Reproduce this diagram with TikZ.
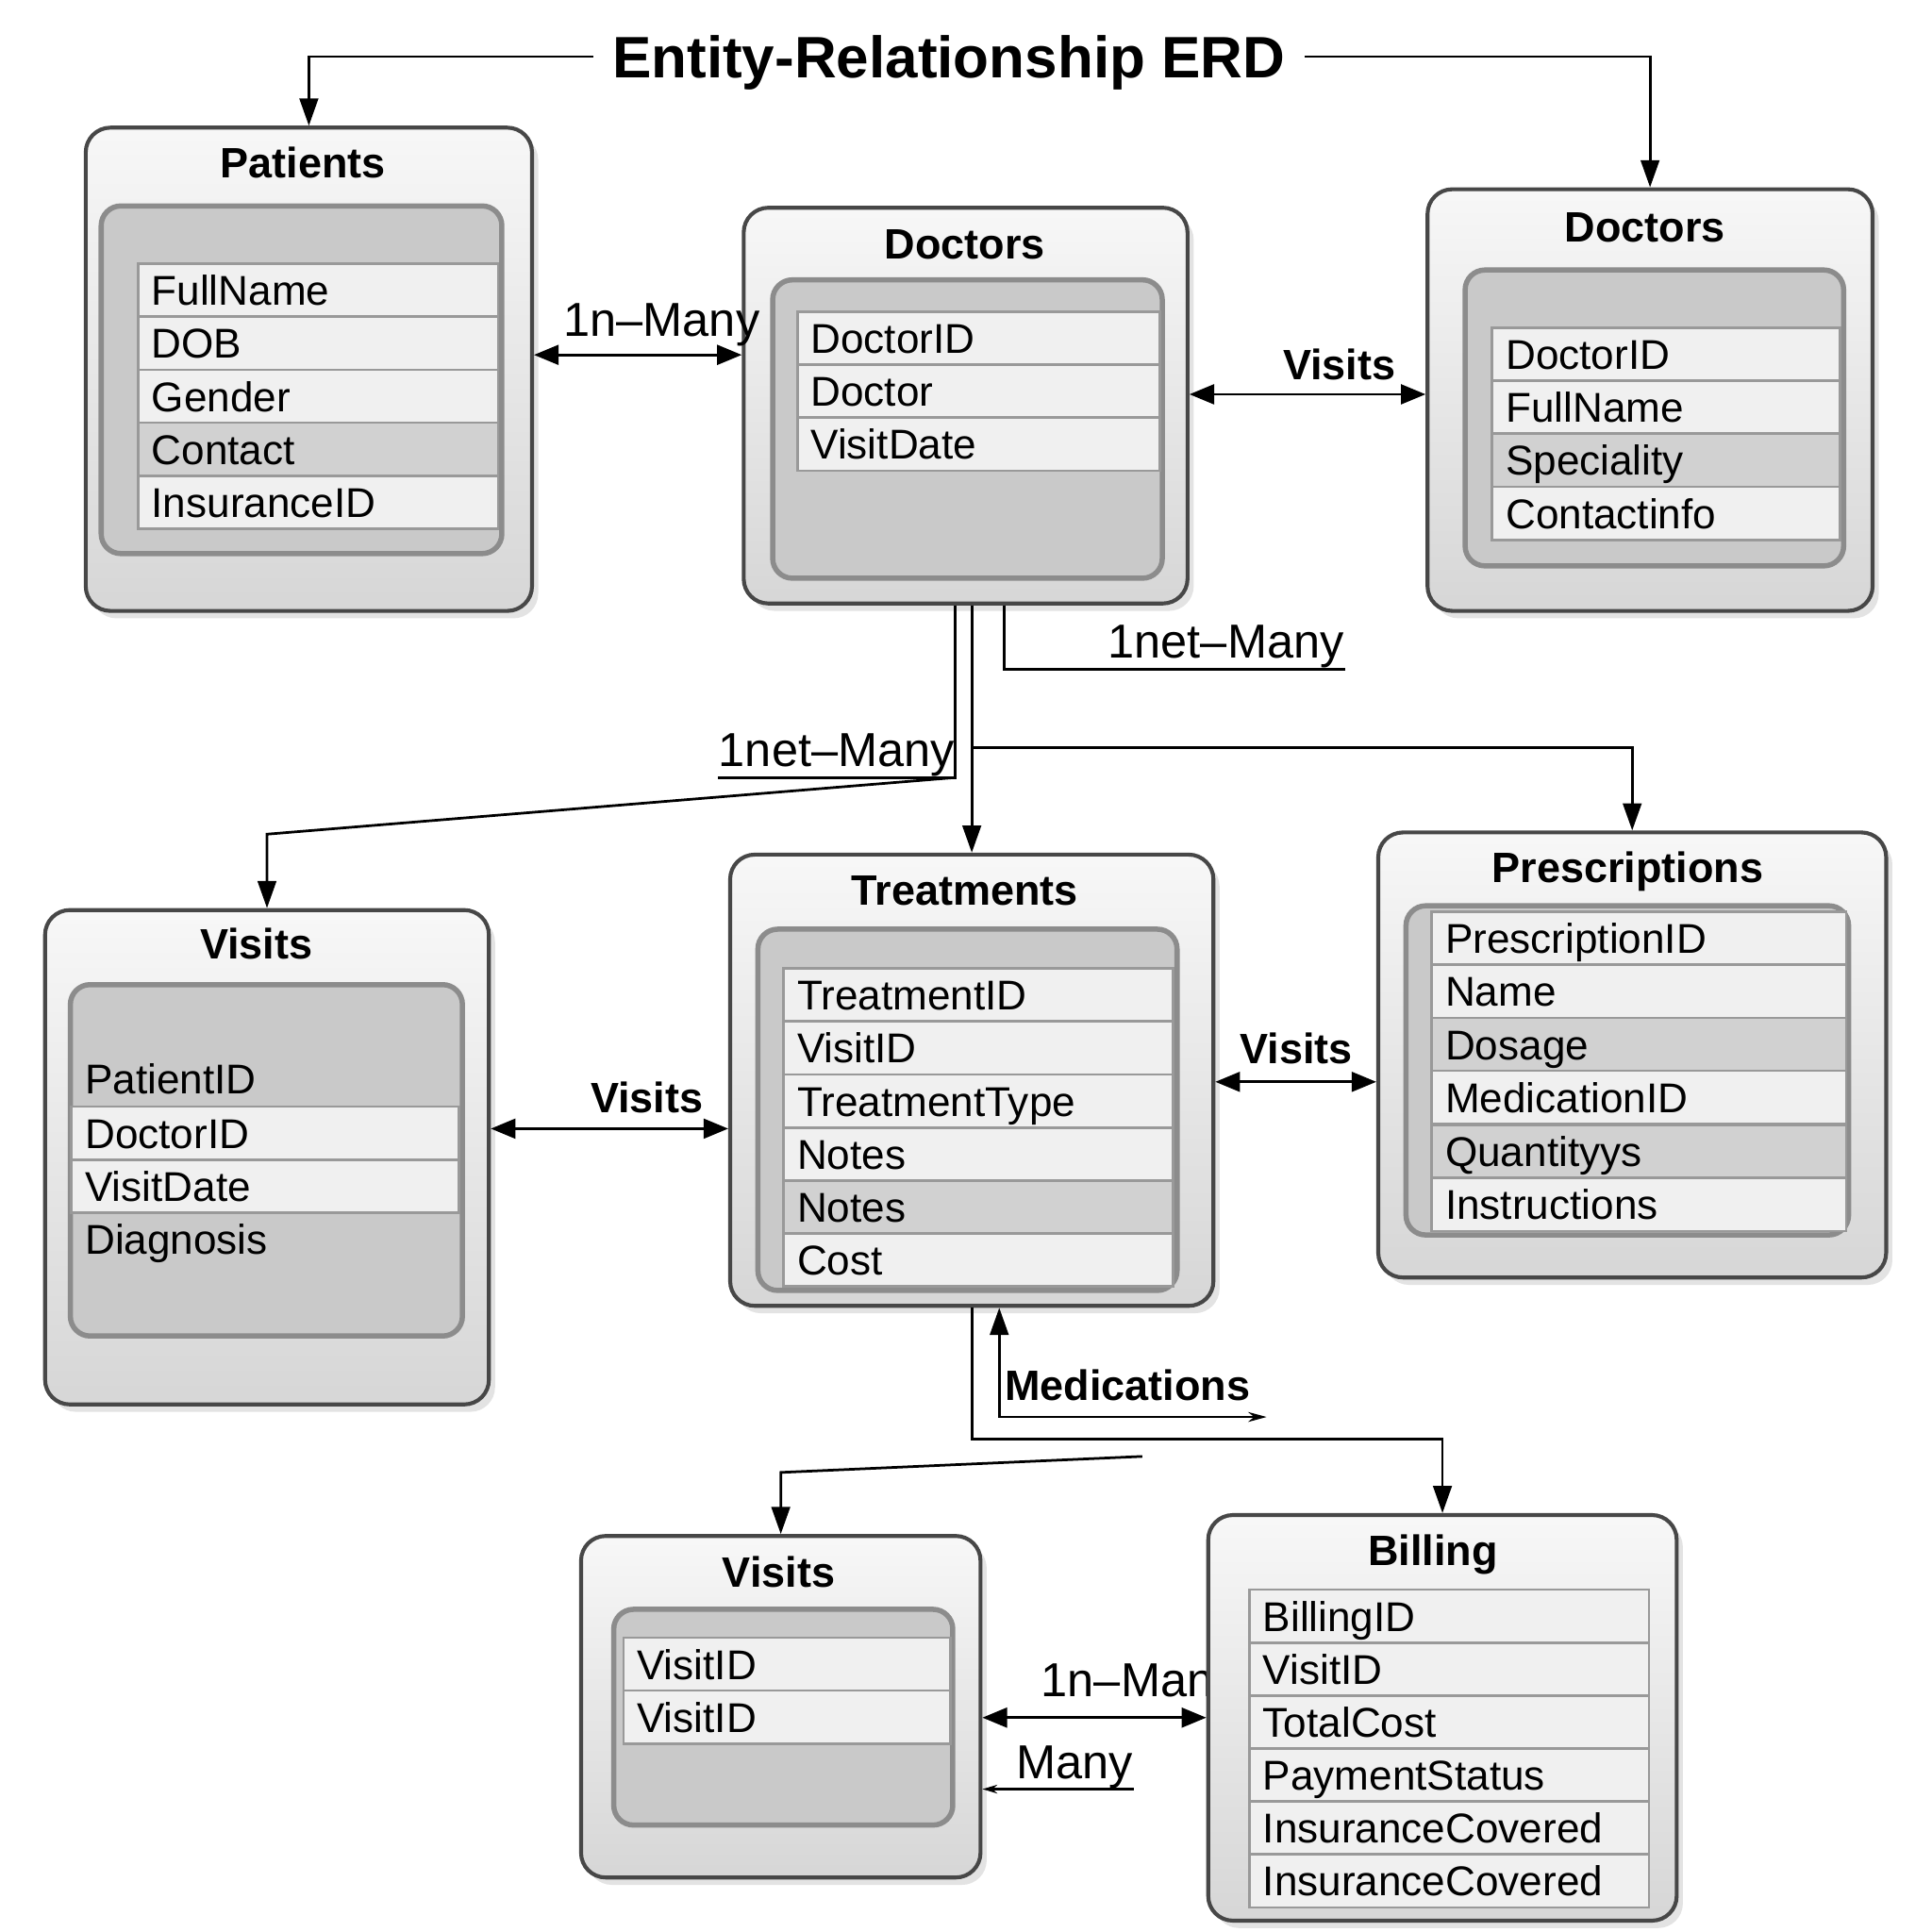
\documentclass[tikz,border=0pt]{standalone}
\usepackage{fontspec}
\setmainfont{Liberation Sans}
\usetikzlibrary{arrows.meta,shadows}

\newcommand{\erfield}[5][lrow]{\node[field,#1,text width=#4cm] (#2) at (#3) {#5};}

\begin{document}
\begin{tikzpicture}[x=0.01cm,y=-0.01cm]
        \tikzstyle{every node}=[font=\fontsize{9.6}{11}\selectfont]
        \tikzstyle{entity}=[draw=black!72, line width=0.9pt, rounded corners=0.2cm, top color=black!3, bottom color=black!16, drop shadow={shadow xshift=0.5mm, shadow yshift=-0.6mm, opacity=0.22}, anchor=north west, inner sep=0]
        \tikzstyle{inbox}=[draw=black!45, line width=1.2pt, rounded corners=0.16cm, fill=black!21, anchor=north west, inner sep=0]
        \tikzstyle{field}=[anchor=north west, draw=black!40, line width=0.6pt, minimum height=0.43cm, inner xsep=0.11cm, inner ysep=0, text height=0.245cm, text depth=0cm, align=left]
        \tikzstyle{lrow}=[fill=black!6]
        \tikzstyle{drow}=[fill=black!18]
        \tikzstyle{brow}=[draw=none]
        \tikzstyle{etitle}=[font=\fontsize{9.8}{12}\selectfont\bfseries, text height=0.25cm, text depth=0cm, inner sep=0]
        \tikzstyle{conlbl}=[font=\fontsize{11}{13}\selectfont, inner sep=0]
        \tikzstyle{rellbl}=[font=\fontsize{9.8}{12}\selectfont\bfseries, inner sep=0]
        \tikzstyle{con}=[line width=0.6pt]
        \tikzstyle{arr}=[con, -{Triangle[length=0.22cm,width=0.15cm]}]
        \tikzstyle{dbl}=[con, {Triangle[length=0.2cm,width=0.16cm]}-{Triangle[length=0.2cm,width=0.16cm]}]

        \fill[white] (0,0) rectangle (1568,1568);
        \useasboundingbox (0,0) rectangle (1568,1568);

        \node[font=\fontsize{13.5}{16}\selectfont\bfseries, inner xsep=0.15cm, text height=0.34cm, text depth=0cm] (title) at (770,46) {Entity-Relationship ERD};

        % Patients
        \node[entity, minimum width=3.62cm, minimum height=3.92cm] (patients) at (68,102) {};
        \node[etitle] (patientsT) at (246,132) {Patients};
        \node[inbox, minimum width=3.25cm, minimum height=2.82cm] (patientsI) at (80,165) {};
        \erfield{pFull}{111,213}{2.70}{FullName}
        \erfield{pDob}{111,256}{2.70}{DOB}
        \erfield{pGen}{111,299}{2.70}{Gender}
        \erfield[drow]{pCon}{111,342}{2.70}{Contact}
        \erfield{pIns}{111,385}{2.70}{InsuranceID}

        % Doctors (middle)
        \node[entity, minimum width=3.60cm, minimum height=3.21cm] (docA) at (602,167) {};
        \node[etitle] (docAT) at (783,198) {Doctors};
        \node[inbox, minimum width=3.16cm, minimum height=2.42cm] (docAI) at (625,225) {};
        \erfield{daId}{646,252}{2.72}{DoctorID}
        \erfield{daDoc}{646,295}{2.72}{Doctor}
        \erfield{daDate}{646,338}{2.72}{VisitDate}

        % Doctors (right)
        \node[entity, minimum width=3.61cm, minimum height=3.42cm] (docB) at (1157,152) {};
        \node[etitle] (docBT) at (1335,184) {Doctors};
        \node[inbox, minimum width=3.07cm, minimum height=2.40cm] (docBI) at (1187,217) {};
        \erfield{dbId}{1210,265}{2.60}{DoctorID}
        \erfield{dbName}{1210,308}{2.60}{FullName}
        \erfield[drow]{dbSpec}{1210,351}{2.60}{Speciality}
        \erfield{dbCon}{1210,394}{2.60}{Contactinfo}

        % Visits (left)
        \node[entity, minimum width=3.60cm, minimum height=4.01cm] (visA) at (35,737) {};
        \node[etitle] (visAT) at (208,766) {Visits};
        \node[inbox, minimum width=3.18cm, minimum height=2.85cm] (visAI) at (55,797) {};
        \erfield[brow]{vaPat}{57,853}{2.92}{PatientID}
        \erfield{vaDoc}{57,897}{2.92}{DoctorID}
        \erfield{vaDate}{57,940}{2.92}{VisitDate}
        \erfield[brow]{vaDiag}{57,983}{2.92}{Diagnosis}

        % Treatments
        \node[entity, minimum width=3.92cm, minimum height=3.66cm] (treat) at (591,692) {};
        \node[etitle] (treatT) at (783,722) {Treatments};
        \node[inbox, minimum width=3.40cm, minimum height=2.93cm] (treatI) at (613,752) {};
        \erfield{tId}{635,785}{2.94}{TreatmentID}
        \erfield{tVis}{635,828}{2.94}{VisitID}
        \erfield{tType}{635,871}{2.94}{TreatmentType}
        \erfield{tNotesA}{635,914}{2.94}{Notes}
        \erfield[drow]{tNotesB}{635,957}{2.94}{Notes}
        \erfield{tCost}{635,1000}{2.94}{Cost}

        % Prescriptions
        \node[entity, minimum width=4.12cm, minimum height=3.61cm] (presc) at (1117,674) {};
        \node[etitle] (prescT) at (1321,704) {Prescriptions};
        \node[inbox, minimum width=3.59cm, minimum height=2.67cm] (prescI) at (1139,733) {};
        \erfield{prId}{1161,739}{3.14}{PrescriptionID}
        \erfield{prName}{1161,782}{3.14}{Name}
        \erfield[drow]{prDose}{1161,825}{3.14}{Dosage}
        \erfield{prMed}{1161,868}{3.14}{MedicationID}
        \erfield[drow]{prQty}{1161,912}{3.14}{Quantityys}
        \erfield{prInst}{1161,955}{3.14}{Instructions}

        % Visits (bottom)
        \node[entity, minimum width=3.24cm, minimum height=2.77cm] (visB) at (470,1245) {};
        \node[etitle] (visBT) at (632,1276) {Visits};
        \node[inbox, minimum width=2.75cm, minimum height=1.75cm] (visBI) at (496,1304) {};
        \erfield{vbIdA}{505,1328}{2.43}{VisitID}
        \erfield{vbIdB}{505,1371}{2.43}{VisitID}

        % connector labels
        \node[conlbl] (lblTop) at (537,264) {1n--Many};
        \node[conlbl] (lblA) at (995,525) {1net--Many};
        \node[conlbl] (lblB) at (679,613) {1net--Many};
        \node[conlbl] (lblBill) at (915,1364) {1n--Man};
        \node[conlbl] (manyl) at (872,1434) {Many};
        \node[rellbl] (relDoc) at (1087,296) {Visits};
        \node[rellbl] (relVis) at (525,891) {Visits};
        \node[rellbl] (relPre) at (1052,851) {Visits};
        \node[rellbl] (relMed) at (915,1124) {Medications};

        % Billing
        \node[entity, minimum width=3.80cm, minimum height=3.29cm] (bill) at (979,1228) {};
        \node[etitle] (billT) at (1163,1258) {Billing};
        \erfield{bId}{1013,1289}{3.02}{BillingID}
        \erfield{bVis}{1013,1332}{3.02}{VisitID}
        \erfield{bCost}{1013,1375}{3.02}{TotalCost}
        \erfield{bPay}{1013,1418}{3.02}{PaymentStatus}
        \erfield{bInsA}{1013,1461}{3.02}{InsuranceCovered}
        \erfield{bInsB}{1013,1504}{3.02}{InsuranceCovered}

        \coordinate (medend) at (1028,1150);
        \coordinate (vbstart) at (927,1182);

        % connectors
        \draw[arr] (title.west) -| (patients.north);
        \draw[arr] (title.east) -| (docB.north);
        \draw[dbl] (patients.east |- 0,288) -- (docA.west |- 0,288);
        \draw[dbl] (docA.east |- 0,320) -- (docB.west |- 0,320);
        \draw[con] (docA.south -| 815,0) |- (lblA.south east);
        \draw[con] (docA.south -| lblB.south east) |- (lblB.south west);
        \draw[arr] (lblB.south east) -- (visA.north |- 0,677) -- (visA.north);
        \draw[arr] (docA.south -| treat.north) -- (treat.north);
        \draw[arr] (treat.north |- 0,607) -| (presc.north);
        \draw[dbl] (visA.east |- 0,916) -- (treat.west |- 0,916);
        \draw[dbl] (treat.east |- 0,878) -- (presc.west |- 0,878);
        \draw[arr] (treat.south) |- (bill.north |- 0,1168) -- (bill.north);
        \draw[con, {Triangle[length=0.22cm,width=0.15cm]}-{Stealth[length=0.15cm,width=0.08cm]}] (treat.south -| 811,0) |- (medend);
        \draw[arr] (vbstart) -- (visB.north |- 0,1195) -- (visB.north);
        \draw[dbl] (visB.east |- 0,1394) -- (bill.west |- 0,1394);
        \draw[con, -{Stealth[length=0.12cm,width=0.07cm]}] (manyl.south east) -- (manyl.south -| visB.east);
    \end{tikzpicture}
\end{document}
